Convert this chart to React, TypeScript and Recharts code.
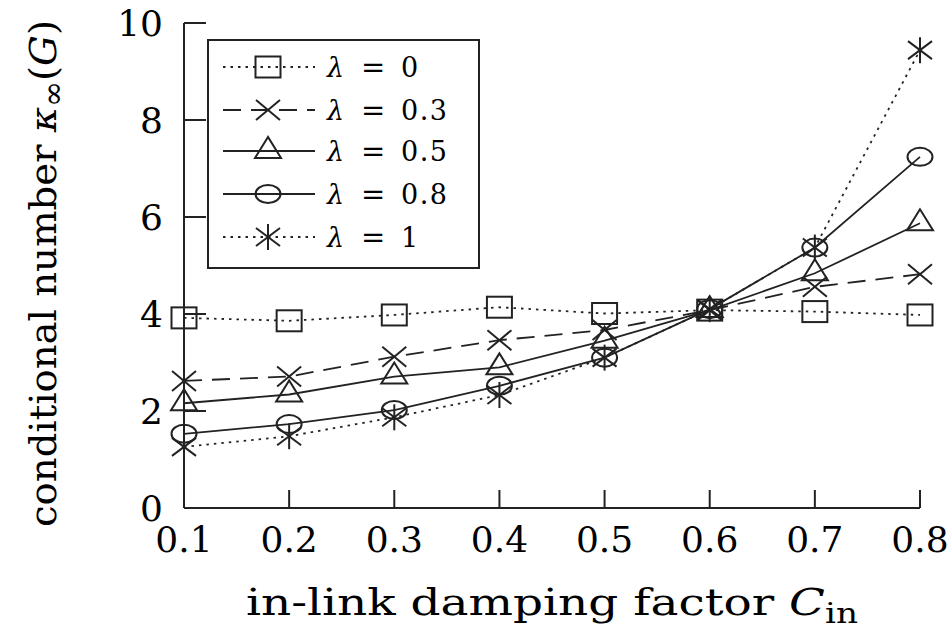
import React from 'react';
import { LineChart, Line, XAxis, YAxis, Legend } from 'recharts';

const xValues = [0.1, 0.2, 0.3, 0.4, 0.5, 0.6, 0.7, 0.8];
const lambda0 = [3.92, 3.86, 3.98, 4.14, 4.01, 4.08, 4.05, 3.98];
const lambda03 = [2.62, 2.71, 3.12, 3.46, 3.67, 4.08, 4.56, 4.82];
const lambda05 = [2.16, 2.34, 2.71, 2.9, 3.45, 4.08, 4.84, 5.87];
const lambda08 = [1.53, 1.73, 2.02, 2.52, 3.1, 4.1, 5.37, 7.24];
const lambda1 = [1.26, 1.48, 1.87, 2.33, 3.1, 4.1, 5.37, 9.44];

const xTicks = [0.1, 0.2, 0.3, 0.4, 0.5, 0.6, 0.7, 0.8];
const yTicks = [0, 2, 4, 6, 8, 10];
const lambdaLabels = ['0', '0.3', '0.5', '0.8', '1'];

const data = xValues.map((x, i) => ({
  x,
  l0: lambda0[i],
  l03: lambda03[i],
  l05: lambda05[i],
  l08: lambda08[i],
  l1: lambda1[i],
}));

type Shape = 'square' | 'cross' | 'triangle' | 'circle' | 'star';

const series: { key: string; label: string; dash?: string; shape: Shape }[] = [
  { key: 'l0', label: lambdaLabels[0], dash: '2.5 5', shape: 'square' },
  { key: 'l03', label: lambdaLabels[1], dash: '18 10', shape: 'cross' },
  { key: 'l05', label: lambdaLabels[2], shape: 'triangle' },
  { key: 'l08', label: lambdaLabels[3], shape: 'circle' },
  { key: 'l1', label: lambdaLabels[4], dash: '2.5 5', shape: 'star' },
];

const FONT = '"DejaVu Serif", "Liberation Serif", serif';
const INK = '#222';
const LINE_W = 1.8;

function Marker({ shape, cx, cy }: { shape: Shape; cx: number; cy: number }) {
  const s = { stroke: INK, strokeWidth: 2, fill: 'none' } as const;
  switch (shape) {
    case 'square':
      return <rect x={cx - 12.5} y={cy - 10.5} width={25} height={21} {...s} />;
    case 'cross':
      return (
        <g {...s}>
          <line x1={cx - 12} y1={cy - 10} x2={cx + 12} y2={cy + 10} />
          <line x1={cx - 12} y1={cy + 10} x2={cx + 12} y2={cy - 10} />
        </g>
      );
    case 'triangle':
      return <polygon points={`${cx},${cy - 14} ${cx - 13},${cy + 7} ${cx + 13},${cy + 7}`} {...s} />;
    case 'circle':
      return <ellipse cx={cx} cy={cy} rx={12.5} ry={9} {...s} />;
    case 'star':
    default:
      return (
        <g {...s}>
          <line x1={cx - 12} y1={cy - 9} x2={cx + 12} y2={cy + 9} />
          <line x1={cx - 12} y1={cy + 9} x2={cx + 12} y2={cy - 9} />
          <line x1={cx} y1={cy - 13} x2={cx} y2={cy + 13} />
        </g>
      );
  }
}

const makeDot = (shape: Shape) => (props: any) => {
  const { cx, cy, index } = props;
  if (cx == null || cy == null) return <g key={`${shape}-${index}`} />;
  return (
    <g key={`${shape}-${index}`}>
      <Marker shape={shape} cx={cx} cy={cy} />
    </g>
  );
};

const frame = { stroke: INK, strokeWidth: 2 };

const BottomTick = (props: any) => {
  const { x, y, payload } = props;
  return (
    <g>
      <line x1={x} y1={y} x2={x} y2={y - 18} stroke={INK} strokeWidth={2} />
      <text x={x} y={y + 44} textAnchor="middle" fontFamily={FONT} fontSize={36} fill="#000">
        {String(payload.value)}
      </text>
    </g>
  );
};

const TopTick = (props: any) => {
  const { x, y } = props;
  return <line x1={x} y1={y} x2={x} y2={y + 18} stroke={INK} strokeWidth={2} />;
};

const LeftTick = (props: any) => {
  const { x, y, payload } = props;
  return (
    <g>
      <line x1={x} y1={y} x2={x + 22} y2={y} stroke={INK} strokeWidth={2} />
      <text x={x - 21} y={y} dy="0.36em" textAnchor="end" fontFamily={FONT} fontSize={36} fill="#000">
        {String(payload.value)}
      </text>
    </g>
  );
};

const RightTick = (props: any) => {
  const { x, y } = props;
  return <line x1={x} y1={y} x2={x - 22} y2={y} stroke={INK} strokeWidth={2} />;
};

const YTitle = (props: any) => {
  const vb = props.viewBox || { x: 0, y: 23, height: 485 };
  const cx = vb.x + 56;
  const cy = vb.y + vb.height / 2 + 8;
  return (
    <text
      x={cx}
      y={cy}
      transform={`rotate(-90, ${cx}, ${cy})`}
      textAnchor="middle"
      fontFamily={FONT}
      fontSize={37}
      fill="#000"
      textLength={507}
      lengthAdjust="spacingAndGlyphs"
    >
      conditional number{' '}
      <tspan fontStyle="italic">κ</tspan>
      <tspan fontSize={30} dy={7}>∞</tspan>
      <tspan dy={-7}>(</tspan>
      <tspan fontStyle="italic">G</tspan>
      <tspan>)</tspan>
    </text>
  );
};

const XTitle = (props: any) => {
  const vb = props.viewBox || { x: 184, y: 508, width: 736 };
  const cx = vb.x + vb.width / 2;
  const cy = vb.y + 107;
  return (
    <text
      x={cx}
      y={cy}
      textAnchor="middle"
      fontFamily={FONT}
      fontSize={37}
      fill="#000"
      textLength={612}
      lengthAdjust="spacingAndGlyphs"
    >
      in-link damping factor{' '}
      <tspan fontStyle="italic">C</tspan>
      <tspan fontSize={27} dy={8}>in</tspan>
    </text>
  );
};

const LegendBox = () => {
  const rowY = [28, 71, 112, 155, 198];
  return (
    <svg width={273} height={230} style={{ display: 'block' }}>
      <rect x={1} y={1} width={271} height={228} fill="#fff" stroke={INK} strokeWidth={2} />
      {series.map((s, i) => {
        const y = rowY[i];
        return (
          <g key={s.key}>
            <line
              x1={16}
              y1={y}
              x2={108}
              y2={y}
              stroke={INK}
              strokeWidth={LINE_W}
              strokeDasharray={s.dash}
            />
            <Marker shape={s.shape} cx={61} cy={y} />
            <text x={120} y={y} dy="0.36em" fontFamily={FONT} fontSize={27} fill="#000">
              <tspan fontStyle="italic">λ</tspan>
            </text>
            <text x={154} y={y} dy="0.36em" fontFamily={FONT} fontSize={29} fill="#000">
              =
            </text>
            <text x={194} y={y} dy="0.36em" fontFamily={FONT} fontSize={27} fill="#000" letterSpacing={1.5}>
              {s.label}
            </text>
          </g>
        );
      })}
    </svg>
  );
};

export default function App() {
  return (
    <div style={{ position: 'absolute', left: 0, top: 0, width: 952, height: 633, overflow: 'visible' }}>
      <LineChart
        width={952}
        height={633}
        data={data}
        margin={{ top: 23, right: 32, bottom: 0, left: 0 }}
        style={{ overflow: 'visible' }}
      >
        <XAxis
          dataKey="x"
          type="number"
          domain={[0.1, 0.8]}
          ticks={xTicks}
          height={125}
          tickSize={0}
          tickMargin={0}
          tickLine={false}
          axisLine={frame}
          tick={BottomTick}
          interval={0}
          label={{ content: XTitle }}
        />
        <XAxis
          xAxisId="top"
          orientation="top"
          dataKey="x"
          type="number"
          domain={[0.1, 0.8]}
          ticks={xTicks}
          height={0}
          tickSize={0}
          tickMargin={0}
          tickLine={false}
          axisLine={frame}
          tick={TopTick}
          interval={0}
        />
        <YAxis
          type="number"
          domain={[0, 10]}
          ticks={yTicks}
          width={184}
          tickSize={0}
          tickMargin={0}
          tickLine={false}
          axisLine={frame}
          tick={LeftTick}
          interval={0}
          label={{ content: YTitle }}
        />
        <YAxis
          yAxisId="right"
          orientation="right"
          type="number"
          domain={[0, 10]}
          ticks={yTicks}
          width={0}
          tickSize={0}
          tickMargin={0}
          tickLine={false}
          axisLine={frame}
          tick={RightTick}
          interval={0}
        />
        {series.map((s) => (
          <Line
            key={s.key}
            dataKey={s.key}
            name={s.label}
            type="linear"
            stroke={INK}
            strokeWidth={LINE_W}
            strokeDasharray={s.dash}
            dot={makeDot(s.shape)}
            activeDot={false}
            isAnimationActive={false}
          />
        ))}
        <Legend
          layout="horizontal"
          verticalAlign="middle"
          align="center"
          content={LegendBox}
          wrapperStyle={{ position: 'absolute', left: 207, top: 39, width: 273, height: 230 }}
        />
      </LineChart>
    </div>
  );
}
